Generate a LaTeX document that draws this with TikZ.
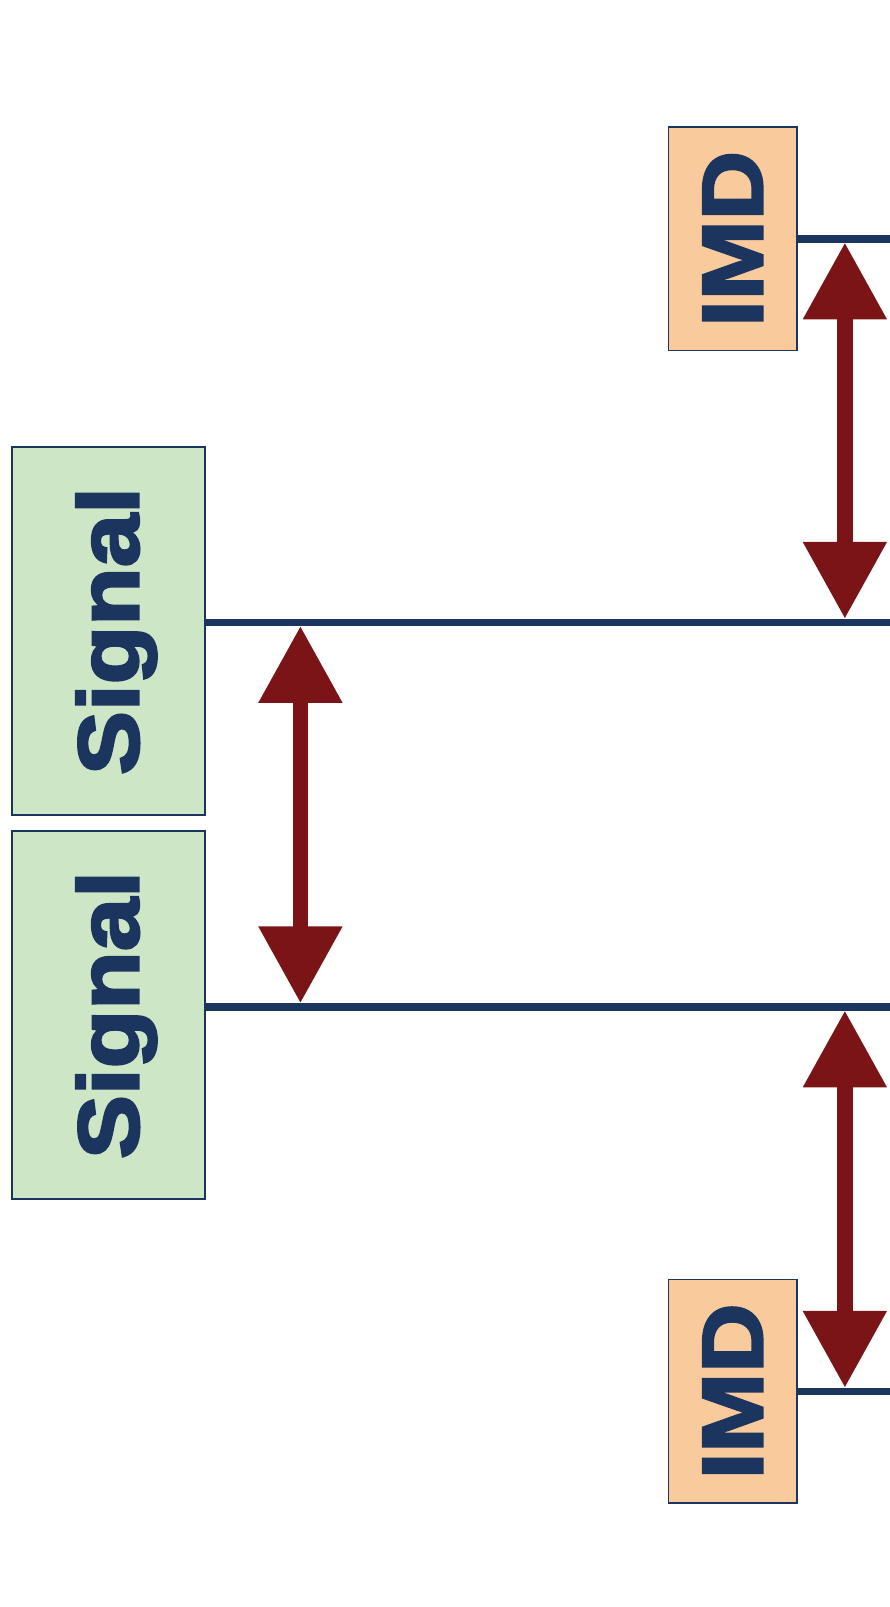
\documentclass[tikz,border=0pt]{standalone}
\usepackage{fontspec}
\newfontfamily\boxfont[FakeStretch=1.115,FakeBold=3]{Liberation Sans Bold}
\usetikzlibrary{arrows.meta}
\definecolor{navy}{HTML}{1C355E}
\definecolor{peach}{HTML}{F9CB9C}
\definecolor{mint}{HTML}{CDE6C5}
\definecolor{wine}{HTML}{7B1416}

\begin{document}
\begin{tikzpicture}[x=1.0253pt,y=1.0253pt,
	labelbox/.style={draw=navy, line width=1.6pt, rotate=90, inner sep=0pt,
		text=navy, font=\boxfont\fontsize{86}{86}\selectfont,
		text height=62pt, text depth=2.6pt},
	imdbox/.style={labelbox, fill=peach, minimum width=223.5pt, minimum height=128.2pt},
	sigbox/.style={labelbox, fill=mint, minimum width=368pt, minimum height=192.8pt},
	bus/.style={navy, line width=7.7pt},
	gap/.style={wine, line width=15.4pt, {Triangle[width=80pt,length=77pt]}-{Triangle[width=80pt,length=77pt]}}]
	\useasboundingbox (0,0) rectangle (868,-1567.3);

	\node [imdbox] (imdA) at (714.5,-233) {IMD};
	\node [sigbox] (sigA) at (106,-615.5) {Signal};
	\node [sigbox] (sigB) at (106,-990) {Signal};
	\node [imdbox] (imdB) at (714.5,-1357) {IMD};

	\coordinate (busA) at (868,-233);
	\coordinate (busB) at (868,-607);
	\coordinate (busC) at (868,-982);
	\coordinate (busD) at (868,-1357);

	\draw [bus] (imdA.south |- busA) -- (busA);
	\draw [bus] (sigA.south |- busB) -- (busB);
	\draw [bus] (sigB.south |- busC) -- (busC);
	\draw [bus] (imdB.south |- busD) -- (busD);

	\coordinate (upA) at (824,-236.5);
	\coordinate (downA) at (824,-603.5);
	\coordinate (upB) at (293,-610.5);
	\coordinate (downB) at (293,-978.5);
	\coordinate (upC) at (824,-985.5);
	\coordinate (downC) at (824,-1353.5);

	\draw [gap] (upA) -- (downA);
	\draw [gap] (upB) -- (downB);
	\draw [gap] (upC) -- (downC);
\end{tikzpicture}
\end{document}
